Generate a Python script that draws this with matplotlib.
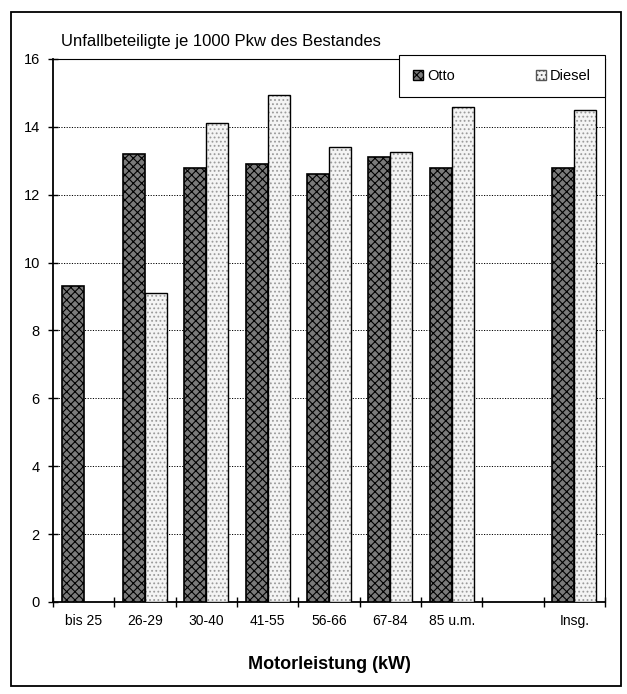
import matplotlib.pyplot as plt
import matplotlib.patches as patches
import numpy as np

plt.rcParams['font.family'] = ['Liberation Sans', 'DejaVu Sans']
plt.rcParams['hatch.linewidth'] = 0.8

categories = ['bis 25', '26-29', '30-40', '41-55', '56-66', '67-84', '85 u.m.', '', 'Insg.']
otto = [9.3, 13.2, 12.8, 12.9, 12.6, 13.1, 12.8, np.nan, 12.8]
diesel = [np.nan, 9.1, 14.1, 14.95, 13.4, 13.25, 14.6, np.nan, 14.5]

fig = plt.figure(figsize=(6.27, 6.94), dpi=100)
ax = fig.add_axes([0.0845, 0.1326, 0.8805, 0.7824])

x = np.arange(len(categories))
w = 0.36

# fill with hatch first, then a black outline on top
ax.bar(x - w / 2, otto, w, color='#7a7a7a', hatch='xxxx', edgecolor='black', linewidth=0, zorder=3)
ax.bar(x - w / 2, otto, w, fill=False, edgecolor='black', linewidth=1.2, zorder=4)
ax.bar(x + w / 2, diesel, w, color='#f4f4f4', hatch='....', edgecolor='#9a9a9a', linewidth=0, zorder=3)
ax.bar(x + w / 2, diesel, w, fill=False, edgecolor='black', linewidth=1.0, zorder=4)

ax.set_xlim(-0.5, len(categories) - 0.5)
ax.set_ylim(0, 16)
ax.set_yticks(np.arange(0, 17, 2))
ax.set_xticks(x)
ax.set_xticklabels(categories, fontsize=10)
ax.set_xticks(np.arange(-0.5, len(categories) + 0.5, 1), minor=True)
ax.tick_params(axis='x', which='major', length=0, pad=9)
ax.tick_params(axis='x', which='minor', length=7, direction='inout', width=1)
ax.tick_params(axis='y', length=7, direction='inout', width=1, labelsize=10.5, pad=6)

ax.grid(axis='y', linestyle=(0, (1.2, 1.5)), color='black', linewidth=0.7, zorder=0)
for s in ax.spines.values():
    s.set_linewidth(0.8)
ax.spines['left'].set_linewidth(1.3)
ax.spines['bottom'].set_linewidth(1.3)

fig.text(0.097, 0.933, 'Unfallbeteiligte je 1000 Pkw des Bestandes', fontsize=12)
fig.text(0.526, 0.036, 'Motorleistung (kW)', fontsize=13, fontweight='bold', ha='center')

h1 = patches.Patch(facecolor='#7a7a7a', hatch='xxxx', edgecolor='black')
h2 = patches.Patch(facecolor='#f4f4f4', hatch='....', edgecolor='#555555')
leg = ax.legend([h1, h2], ['Otto', 'Diesel'], ncol=2, loc='upper right',
                bbox_to_anchor=(1.0, 1.007), borderaxespad=0, fontsize=10.5,
                handlelength=0.7, handleheight=0.7, handletextpad=0.3,
                columnspacing=5.5, borderpad=0.95, fancybox=False, framealpha=1)
leg.get_frame().set_edgecolor('black')
leg.get_frame().set_linewidth(0.8)
leg.set_zorder(5)

# outer frame around the whole chart
fig.patches.append(patches.Rectangle((0.017, 0.012), 0.974, 0.97, transform=fig.transFigure,
                                     fill=False, edgecolor='black', linewidth=1.3))

fig.savefig('out.png', dpi=100)
